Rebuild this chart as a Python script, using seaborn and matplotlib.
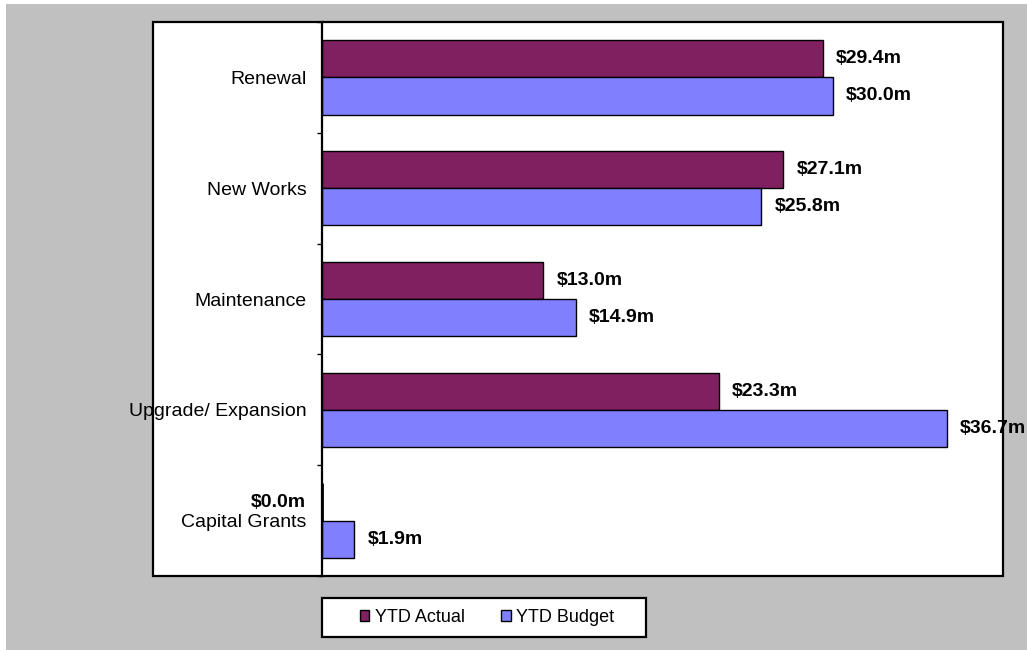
import matplotlib
matplotlib.use('Agg')
import matplotlib.pyplot as plt
import seaborn as sns
import pandas as pd
from matplotlib.patches import Rectangle

categories = ["Renewal", "New Works", "Maintenance", "Upgrade/ Expansion", "Capital Grants"]
ytd_actual = [29.4, 27.1, 13.0, 23.3, 0.0]
ytd_budget = [30.0, 25.8, 14.9, 36.7, 1.9]
series_names = ["YTD Actual", "YTD Budget"]
colors = ["#802060", "#8080FF"]

df = pd.DataFrame({
    "category": categories * 2,
    "value": ytd_actual + ytd_budget,
    "series": [series_names[0]] * len(categories) + [series_names[1]] * len(categories),
})

sns.set_theme(style="white")
plt.rcParams['font.family'] = ['Liberation Sans', 'DejaVu Sans']

W, H = 1027, 650
fig = plt.figure(figsize=(W / 100, H / 100), dpi=100, facecolor='white')


def fx(px):
    return px / W


def fy(py):
    return 1 - py / H


# gray chart background
fig.patches.append(Rectangle((fx(6), 0), 1 - fx(6), fy(4), transform=fig.transFigure,
                             facecolor='#C0C0C0', edgecolor='none', zorder=-10))
# white plot area
pa = (fx(153), fy(576), fx(1003) - fx(153), fy(22) - fy(576))
fig.patches.append(Rectangle(pa[:2], pa[2], pa[3], transform=fig.transFigure,
                             facecolor='white', edgecolor='none', zorder=-5))
fig.patches.append(Rectangle(pa[:2], pa[2], pa[3], transform=fig.transFigure,
                             facecolor='none', edgecolor='black', lw=1.6, zorder=10))
# legend box
fig.patches.append(Rectangle((fx(322), fy(637)), fx(646) - fx(322), fy(598) - fy(637),
                             transform=fig.transFigure, facecolor='white',
                             edgecolor='black', lw=1.6, zorder=1))

ax = fig.add_axes([fx(322), fy(576), fx(1003) - fx(322), fy(22) - fy(576)])
ax.patch.set_alpha(0)

sns.barplot(data=df, x="value", y="category", hue="series", orient="h",
            palette=colors, saturation=1, width=0.67, edgecolor="black", linewidth=1,
            order=categories, hue_order=series_names, legend=False, ax=ax)

ax.set_xlim(0, 40)
ax.set_ylim(len(categories) - 0.5, -0.5)
ax.set_xlabel("")
ax.set_ylabel("")
ax.set_xticks([])

for s in ["top", "right", "bottom"]:
    ax.spines[s].set_visible(False)
ax.spines["left"].set_color("black")
ax.spines["left"].set_linewidth(1.6)

ax.set_yticks(range(len(categories)))
ax.set_yticklabels(categories, fontsize=14, color="black")
ax.set_yticks([i - 0.5 for i in range(len(categories) + 1)], minor=True)
ax.tick_params(axis="y", which="major", length=0, pad=11)
ax.tick_params(axis="y", which="minor", left=True, length=3.5, width=1, color="black", direction="out")

for cont, vals in zip(ax.containers, [ytd_actual, ytd_budget]):
    labels = [f"${v:.1f}m" if v > 0 else "" for v in vals]
    ax.bar_label(cont, labels=labels, padding=9.5, fontsize=14, fontweight="bold", color="black")
    for bar, v in zip(cont.patches, vals):
        if v == 0:
            bar.set_linewidth(2)
            ax.annotate(f"${v:.1f}m", xy=(bar.get_x(), bar.get_y() + bar.get_height() / 2),
                        xytext=(-11.5, 0), textcoords="offset points", ha="right", va="center",
                        fontsize=14, fontweight="bold", color="black")

handles = [Rectangle((0, 0), 1, 1, facecolor=c, edgecolor="black", lw=1) for c in colors]
fig.legend(handles, series_names, loc="center", bbox_to_anchor=(fx(487), fy(617.5)),
           ncol=2, frameon=False, fontsize=13, handlelength=0.55, handleheight=0.55,
           handletextpad=0.3, columnspacing=2.0, labelcolor="black")

fig.savefig("out.png", dpi=100, facecolor=fig.get_facecolor())
